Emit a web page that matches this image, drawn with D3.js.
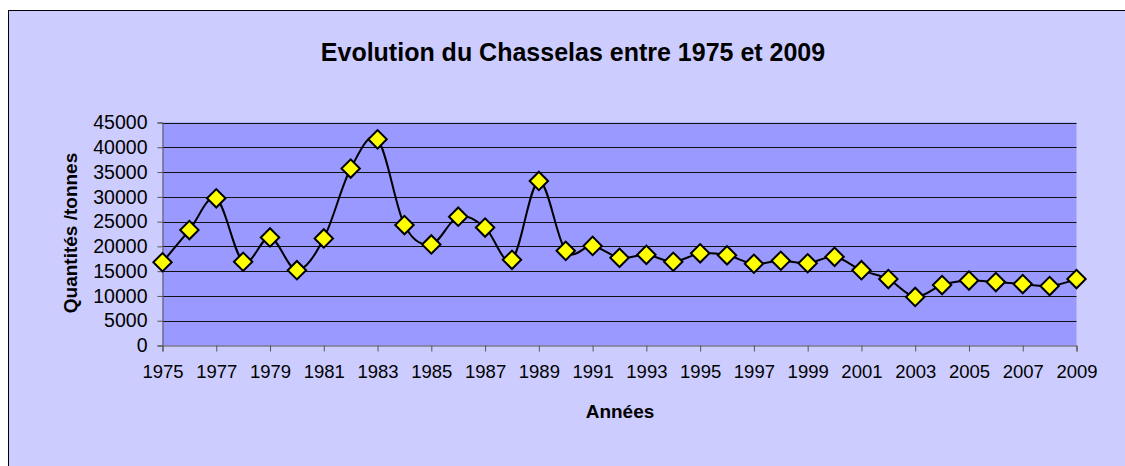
<!DOCTYPE html>
<html>
<head>
<meta charset="utf-8">
<script src="https://cdn.jsdelivr.net/npm/d3@7"></script>
<style>
  body { margin: 0; background: #fff; }
  svg { display: block; font-family: Arial, "Liberation Sans", sans-serif; }
</style>
</head>
<body>
<svg id="chart"></svg>
<script>
// Quantités de Chasselas (tonnes)
const years = [1975, 1976, 1977, 1978, 1979, 1980, 1981, 1982, 1983, 1984,
    1985, 1986, 1987, 1988, 1989, 1990, 1991, 1992, 1993, 1994,
    1995, 1996, 1997, 1998, 1999, 2000, 2001, 2002, 2003, 2004,
    2005, 2006, 2007, 2008, 2009];
const quantities = [16800, 23300, 29700, 16900, 21800, 15200, 21600, 35700, 41600, 24300,
    20400, 26000, 23800, 17300, 33200, 19100, 20100, 17700, 18300, 16900,
    18600, 18200, 16500, 17100, 16600, 17900, 15200, 13400, 9800, 12200,
    13100, 12800, 12400, 12000, 13400];
const yTicks = [0, 5000, 10000, 15000, 20000, 25000, 30000, 35000, 40000, 45000];
const xTicks = years.filter((d, i) => i % 2 === 0);

const data = years.map((y, i) => ({ year: y, value: quantities[i] }));

const W = 1125, H = 466;
const plot = { left: 162.5, right: 1076.5, top: 122.5, bottom: 345.5 };

const svg = d3.select("#chart")
    .attr("width", W)
    .attr("height", H);

// Fond du graphique
svg.append("rect")
    .attr("x", 8.5)
    .attr("y", 10.5)
    .attr("width", W)
    .attr("height", H)
    .attr("fill", "#ccccff")
    .attr("stroke", "#000")
    .attr("stroke-width", 1);

// Zone de traçage
svg.append("rect")
    .attr("x", plot.left)
    .attr("y", plot.top)
    .attr("width", plot.right - plot.left)
    .attr("height", plot.bottom - plot.top)
    .attr("fill", "#9999ff");

const x = d3.scaleLinear()
    .domain([1975, 2009])
    .range([plot.left, plot.right]);

const y = d3.scaleLinear()
    .domain([0, 45000])
    .range([plot.bottom, plot.top]);

// Quadrillage horizontal
svg.append("g")
    .selectAll("line")
    .data(yTicks.filter(d => d > 0))
    .join("line")
    .attr("x1", plot.left)
    .attr("x2", plot.right)
    .attr("y1", d => Math.round(y(d)) + 0.5)
    .attr("y2", d => Math.round(y(d)) + 0.5)
    .attr("stroke", "#111")
    .attr("stroke-width", 1);

// Axe Y
const yAxis = svg.append("g")
    .attr("transform", `translate(${plot.left},0)`)
    .call(d3.axisLeft(y).tickValues(yTicks).tickSize(5).tickPadding(10).tickFormat(d3.format("d")));
yAxis.select(".domain").attr("stroke", "#555");
yAxis.selectAll(".tick line").attr("stroke", "#555");
yAxis.selectAll("text")
    .attr("font-size", 19.5)
    .attr("font-family", "Arial, 'Liberation Sans', sans-serif")
    .attr("fill", "#000");

// Axe X
const xAxis = svg.append("g")
    .attr("transform", `translate(0,${plot.bottom})`)
    .call(d3.axisBottom(x).tickValues(xTicks).tickSize(6).tickPadding(13).tickFormat(d3.format("d")));
xAxis.select(".domain").attr("stroke", "#555");
xAxis.selectAll(".tick line").attr("stroke", "#555");
xAxis.selectAll("text")
    .attr("font-size", 18.5)
    .attr("font-family", "Arial, 'Liberation Sans', sans-serif")
    .attr("fill", "#000");

// Courbe lissée
const line = d3.line()
    .x(d => x(d.year))
    .y(d => y(d.value))
    .curve(d3.curveCardinal.tension(0));

svg.append("path")
    .datum(data)
    .attr("fill", "none")
    .attr("stroke", "#000")
    .attr("stroke-width", 2)
    .attr("d", line);

// Marqueurs en losange
const diamond = d3.symbol().type(d3.symbolSquare).size(169);
svg.append("g")
    .selectAll("path")
    .data(data)
    .join("path")
    .attr("d", diamond)
    .attr("transform", d => `translate(${x(d.year)},${y(d.value)}) rotate(45)`)
    .attr("fill", "#ffff00")
    .attr("stroke", "#000")
    .attr("stroke-width", 2);

// Titre
svg.append("text")
    .attr("x", 573)
    .attr("y", 61)
    .attr("text-anchor", "middle")
    .attr("font-size", 25)
    .attr("font-weight", "bold")
    .text("Evolution du Chasselas entre 1975 et 2009");

// Titre axe X
svg.append("text")
    .attr("x", 620)
    .attr("y", 418)
    .attr("text-anchor", "middle")
    .attr("font-size", 19)
    .attr("font-weight", "bold")
    .text("Années");

// Titre axe Y
svg.append("text")
    .attr("transform", "translate(77,233) rotate(-90)")
    .attr("text-anchor", "middle")
    .attr("font-size", 19)
    .attr("font-weight", "bold")
    .text("Quantités /tonnes");
</script>
</body>
</html>
